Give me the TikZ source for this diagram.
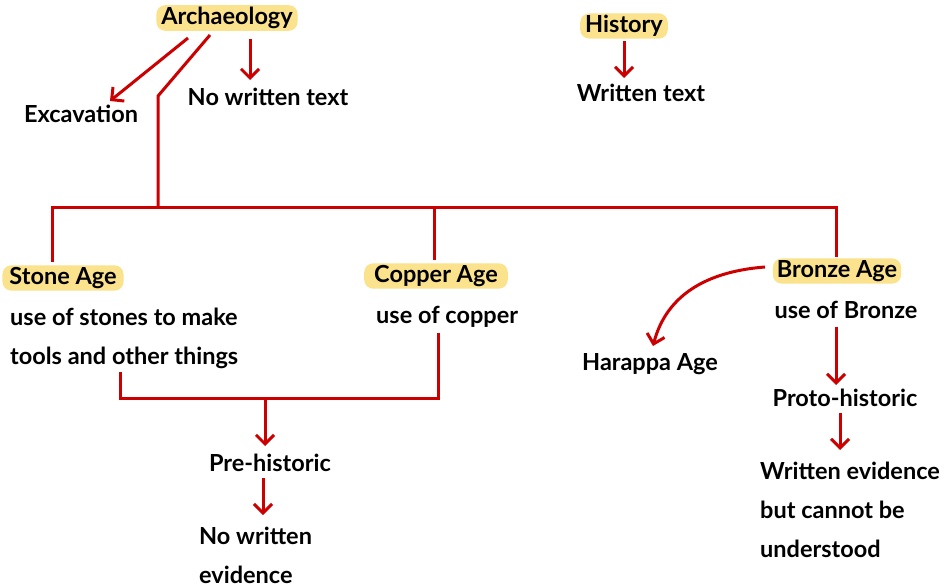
\documentclass[tikz,border=0pt]{standalone}
\usepackage{fontspec}
\setmainfont{Lato}
\usetikzlibrary{arrows.meta}
\definecolor{lred}{HTML}{CC0000}
\definecolor{hl}{HTML}{FBE28C}
\tikzset{
  txt/.style={font=\bfseries\fontsize{23.5}{39}\selectfont, inner sep=0pt, text=black},
  hlbox/.style={txt, fill=hl, rounded corners=9pt, inner xsep=5pt, inner ysep=2pt},
  conn/.style={draw=lred, line width=3pt},
  arr/.style={conn, -{Straight Barb[length=9pt,width=18pt,line width=3pt]}},
}
\begin{document}
\begin{tikzpicture}[x=1pt,y=-1pt]
\useasboundingbox (0,0) rectangle (945,588);
% top
\node[hlbox] (arch) at (227,18) {Archaeology};
\node[txt] (exc) at (81,114) {Excavation};
\node[txt] (nwt) at (268,97) {No written text};
\node[hlbox] (hist) at (624,26) {History};
\node[txt] (wt) at (641,93) {Written text};
\draw[arr] (188,38) -- (110,101);
\draw[arr] (250,39) -- (250,80);
\draw[arr] (624,41) -- (624,78);
% trunk
\coordinate (t1) at (210,35);
\coordinate (t2) at (158,96);
\coordinate (t3) at (158,208);
\draw[conn] (t1) -- (t2) -- (t3);
\draw[conn] (52,208) -- (836,208);
\draw[conn] (52,206.5) -- (52,262);
\draw[conn] (434,206.5) -- (434,260);
\draw[conn] (836,206.5) -- (836,257);
% ages
\node[hlbox, inner xsep=7pt] (stone) at (63,278) {Stone Age};
\node[txt, anchor=west, align=left] (stoned) at (10,338) {use of stones to make\\tools and other things};
\node[hlbox, inner xsep=10pt] (copper) at (436,276) {Copper Age};
\node[txt, anchor=west] (copperd) at (376,317) {use of copper};
\node[hlbox, inner xsep=4pt] (bronze) at (837,271) {Bronze Age};
\node[txt] (bronzed) at (846,310) {use of Bronze};
\node[txt] (harappa) at (650,364) {Harappa Age};
\draw[arr] (765,267) .. controls (700,272) and (665,300) .. (653,346);
\node[txt] (proto) at (845,398) {Proto-historic};
\draw[arr] (836,327) -- (836,385);
\draw[arr] (840,413) -- (840,450);
\node[txt, anchor=north west, align=left] (wev) at (760,462) {Written evidence\\but cannot be\\understood};
% bottom join
\draw[conn] (120,372) -- (120,398) -- (438,398) -- (438,333);
\node[txt] (pre) at (270,463) {Pre-historic};
\draw[arr] (265,398) -- (265,446);
\draw[arr] (263,478) -- (263,515);
\node[txt, anchor=north west, align=left] (nwe) at (199,527) {No written\\evidence};
\end{tikzpicture}
\end{document}
